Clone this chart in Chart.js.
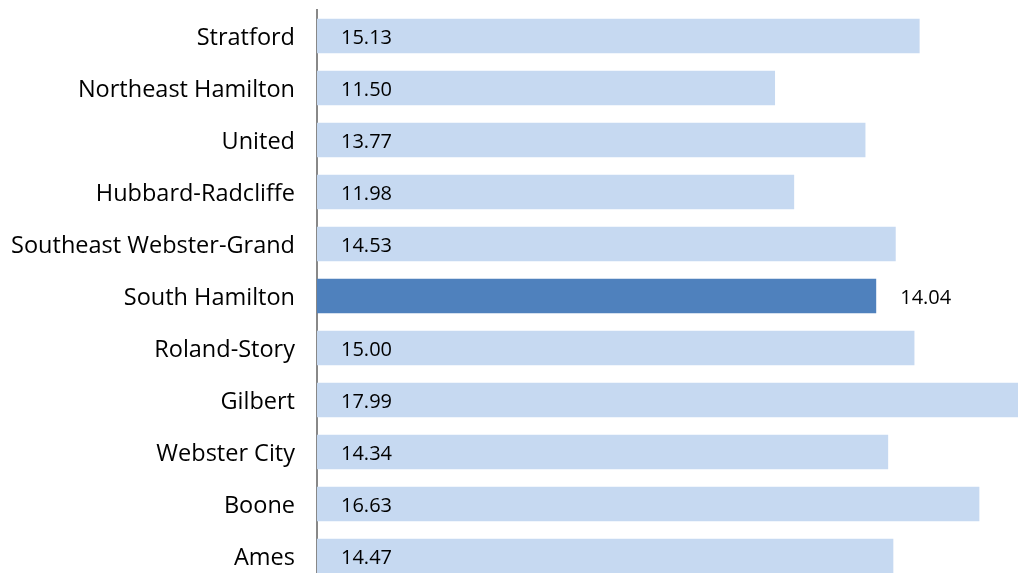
<!DOCTYPE html>
<html>
<head>
<meta charset="utf-8">
<script src="https://cdn.jsdelivr.net/npm/chart.js@4.4.1/dist/chart.umd.min.js"></script>
<style>
  html, body { margin: 0; padding: 0; background: #fff; overflow: hidden; }
  #chart { position: absolute; left: 0; top: 0; }
</style>
</head>
<body>
<canvas id="chart" width="1018" height="582"></canvas>
<script>
const districts = [
  "Stratford", "Northeast Hamilton", "United", "Hubbard-Radcliffe",
  "Southeast Webster-Grand", "South Hamilton", "Roland-Story", "Gilbert",
  "Webster City", "Boone", "Ames"
]
const values = [15.13, 11.50, 13.77, 11.98, 14.53, 14.04, 15.00, 17.99, 14.34, 16.63, 14.47]
const highlight = "South Hamilton"

const lightBlue = "#C6D9F1"
const darkBlue = "#4F81BD"
const fontFamily = "'Open Sans', 'Noto Sans', sans-serif"

// Value labels: inside the bar at its base, outside for the highlighted one
const valueLabels = {
  id: "valueLabels",
  afterDatasetsDraw(chart) {
    const ctx = chart.ctx
    const meta = chart.getDatasetMeta(0)
    ctx.save()
    ctx.font = "20px " + fontFamily
    ctx.fillStyle = "#000"
    ctx.textBaseline = "middle"
    ctx.textAlign = "left"
    meta.data.forEach((bar, i) => {
      const text = values[i].toFixed(2)
      const x = districts[i] === highlight ? bar.x + 24 : bar.base + 24
      ctx.fillText(text, x, bar.y + 2)
    })
    ctx.restore()
  }
}

new Chart(document.getElementById("chart"), {
  type: "bar",
  data: {
    labels: districts,
    datasets: [{
      data: values,
      backgroundColor: districts.map(d => d === highlight ? darkBlue : lightBlue),
      categoryPercentage: 1,
      barPercentage: 0.66
    }]
  },
  options: {
    indexAxis: "y",
    responsive: false,
    animation: false,
    layout: { padding: { top: 10, right: 0, bottom: 0, left: 0 } },
    plugins: {
      legend: { display: false },
      tooltip: { enabled: false }
    },
    scales: {
      x: {
        display: false,
        min: 0,
        max: 17.6
      },
      y: {
        grid: { display: false, drawTicks: false },
        border: { display: true, color: "#888", width: 2 },
        afterFit(scale) {
          scale.width = 317
          scale.paddingTop = 0
          scale.paddingBottom = 0
        },
        ticks: {
          color: "#000",
          padding: 22,
          labelOffset: 2,
          font: { size: 23.5, family: fontFamily }
        }
      }
    }
  },
  plugins: [valueLabels]
})
</script>
</body>
</html>
